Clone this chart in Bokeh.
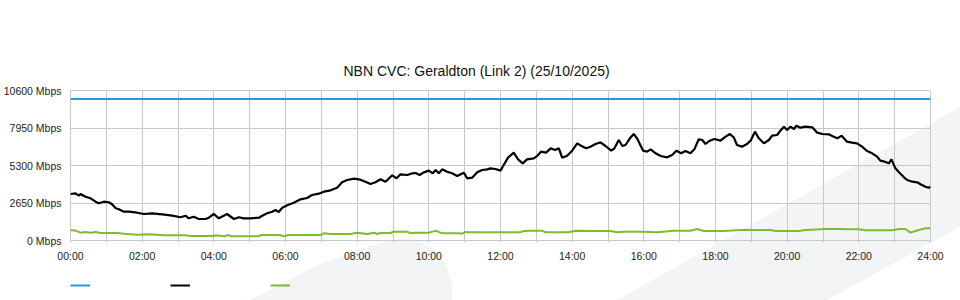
from bokeh.plotting import figure
from bokeh.layouts import column
from bokeh.models import (Range1d, FixedTicker, Title, Legend, LegendItem, ColumnDataSource)
from bokeh.embed import file_html
from bokeh.resources import INLINE

# ---------------- data ----------------
chart_title = "NBN CVC: Geraldton (Link 2) (25/10/2025)"

x_tick_hours = [0, 2, 4, 6, 8, 10, 12, 14, 16, 18, 20, 22, 24]
x_tick_labels = ["00:00", "02:00", "04:00", "06:00", "08:00", "10:00", "12:00",
                 "14:00", "16:00", "18:00", "20:00", "22:00", "24:00"]
x_minor_hours = [1, 3, 5, 7, 9, 11, 13, 15, 17, 19, 21, 23]

y_tick_values = [0, 2650, 5300, 7950, 10600]
y_tick_labels = ["0 Mbps", "2650 Mbps", "5300 Mbps", "7950 Mbps", "10600 Mbps"]

# capacity (blue)
capacity_hours = [0, 24]
capacity_mbps = [10000, 10000]

# traffic (black)
traffic_hours = [
    0.00, 0.14, 0.23, 0.28, 0.42, 0.56, 0.70, 0.79, 0.93, 1.07, 1.16, 1.26, 1.35, 1.49,
    1.63, 1.86, 2.05, 2.28, 2.56, 2.84, 3.07, 3.21, 3.30, 3.44, 3.58, 3.77, 3.86, 4.00,
    4.14, 4.37, 4.56, 4.70, 4.84, 5.02, 5.26, 5.35, 5.49, 5.63, 5.72, 5.81, 5.91, 6.05,
    6.23, 6.42, 6.60, 6.74, 6.93, 7.07, 7.26, 7.44, 7.58, 7.72, 7.91, 8.09, 8.23, 8.37,
    8.51, 8.65, 8.79, 8.98, 9.10, 9.21, 9.40, 9.54, 9.63, 9.74, 9.86, 10.00, 10.11, 10.19,
    10.28, 10.37, 10.51, 10.65, 10.79, 10.98, 11.07, 11.21, 11.35, 11.49, 11.63, 11.72,
    11.86, 12.00, 12.09, 12.21, 12.37, 12.49, 12.62, 12.74, 12.93, 13.02, 13.13, 13.27,
    13.40, 13.52, 13.63, 13.72, 13.86, 14.00, 14.14, 14.26, 14.39, 14.51, 14.65, 14.79,
    14.93, 15.09, 15.18, 15.30, 15.40, 15.49, 15.61, 15.72, 15.81, 15.98, 16.09, 16.19,
    16.33, 16.47, 16.65, 16.79, 16.91, 17.04, 17.16, 17.30, 17.41, 17.53, 17.63, 17.72,
    17.84, 17.97, 18.14, 18.28, 18.40, 18.51, 18.60, 18.74, 18.88, 18.98, 19.10, 19.21,
    19.35, 19.49, 19.58, 19.72, 19.81, 19.91, 20.00, 20.09, 20.19, 20.26, 20.37, 20.51,
    20.70, 20.84, 20.98, 21.16, 21.30, 21.40, 21.52, 21.67, 21.81, 21.95, 22.09, 22.23,
    22.37, 22.51, 22.60, 22.72, 22.84, 22.91, 23.02, 23.12, 23.26, 23.35, 23.49, 23.63,
    23.72, 23.86, 23.95, 24.00]
traffic_mbps = [
    3286, 3335, 3166, 3286, 3095, 2982, 2742, 2629, 2742, 2699, 2558, 2275, 2205, 2035,
    2035, 1964, 1873, 1922, 1851, 1753, 1640, 1753, 1569, 1682, 1519, 1519, 1611, 1873,
    1569, 1873, 1519, 1640, 1569, 1569, 1611, 1753, 1922, 2035, 2155, 2014, 2318, 2487,
    2671, 2911, 3003, 3215, 3307, 3449, 3547, 3731, 4113, 4275, 4369, 4297, 4155, 3993,
    4113, 4325, 4155, 4607, 4395, 4678, 4629, 4749, 4770, 4629, 4817, 4935, 4749, 4982,
    4749, 5029, 4862, 4749, 4558, 4791, 4395, 4438, 4817, 4982, 5029, 5100,
    5053, 4935, 5335, 5853, 6207, 5735, 5453, 5735, 5806, 5970, 6278, 6207,
    6513, 6395, 6513, 5853, 5994, 6348, 6866, 6678, 6513, 6631, 6819, 6937,
    6678, 6348, 6513, 7102, 6678, 6749, 7220, 7526, 7220, 6348, 6278, 6443,
    6160, 5970, 5876, 6042, 6348, 6160, 6325, 6160, 6443, 7149, 7102, 6819,
    7055, 7173, 7055, 7337, 7526, 7290, 6749, 6631, 6819, 7055, 7691, 7220,
    6866, 7102, 7408, 7455, 7761, 8044, 7808, 8044, 7879, 8115, 7973, 8044,
    7997, 7620, 7526, 7502, 7337, 7220, 7408, 6984, 6913, 6866, 6631, 6325,
    6160, 5924, 5641, 5571, 5453, 5735, 5100, 4817, 4464, 4275, 4155, 4113,
    3971, 3802, 3731, 3802]

# second series (green)
green_hours = [
    0.00, 0.14, 0.28, 0.42, 0.56, 0.70, 0.84, 1.30, 1.50, 1.86, 2.20, 2.40, 2.60, 3.20,
    3.35, 4.00, 4.05, 4.30, 4.40, 4.50, 5.25, 5.32, 5.85, 5.95, 6.10, 6.98, 7.07, 7.26,
    7.81, 8.00, 8.28, 8.47, 8.56, 8.65, 8.93, 9.02, 9.40, 9.49, 9.63, 10.00, 10.19, 10.37,
    10.84, 10.93, 11.02, 11.12, 12.55, 12.62, 12.79, 13.16, 13.26, 13.91, 14.09, 14.65,
    15.07, 15.26, 15.44, 16.00, 16.37, 16.84, 17.30, 17.49, 17.67, 18.23, 18.70, 19.53,
    19.67, 20.33, 20.51, 21.07, 21.44, 21.72, 22.00, 22.19, 22.93, 23.12, 23.30, 23.44,
    23.58, 23.86, 24.00]
green_mbps = [
    720, 700, 553, 600, 553, 600, 530, 530, 480, 412, 440, 412, 365, 365,
    318, 318, 365, 294, 390, 294, 294, 389, 389, 294, 389, 389, 507, 460,
    460, 554, 460, 554, 460, 530, 530, 625, 625, 507, 553, 553, 695, 507,
    507, 480, 601, 577, 577, 648, 695, 695, 577, 577, 695, 671,
    671, 577, 624, 624, 577, 695, 695, 813, 671, 671, 742, 742,
    671, 671, 742, 813, 813, 790, 790, 718, 718, 813, 813, 553,
    671, 860, 860]

# ---------------- figure ----------------
FONT = "Liberation Sans"
GRID = "#c8c8c8"
BLUE, BLACK, GREEN = "#1a9fdb", "#000000", "#7dbb30"

src_cap = ColumnDataSource(dict(x=capacity_hours, y=capacity_mbps))
src_trf = ColumnDataSource(dict(x=traffic_hours, y=traffic_mbps))
src_grn = ColumnDataSource(dict(x=green_hours, y=green_mbps))

p = figure(width=960, height=262, frame_width=860, frame_height=150,
           output_backend="svg", toolbar_location=None,
           x_range=Range1d(0, 24), y_range=Range1d(0, 10600),
           min_border_left=70, min_border_right=30, min_border_top=90,
           min_border_bottom=22)
p.border_fill_color = None
p.background_fill_color = None
p.outline_line_color = GRID
p.outline_line_width = 1

p.title = Title(text=chart_title, align="left", offset=273,
                text_font=FONT, text_font_size="14px", text_font_style="normal",
                text_color="#111111", standoff=24)

# x axis
xa = p.xaxis[0]
xa.ticker = FixedTicker(ticks=x_tick_hours, minor_ticks=x_minor_hours)
xa.major_label_overrides = {h: l for h, l in zip(x_tick_hours, x_tick_labels)}
xa.axis_line_color = None
xa.major_tick_in = 0
xa.minor_tick_in = 0
xa.major_tick_out = 2
xa.minor_tick_out = 2
xa.major_tick_line_color = GRID
xa.minor_tick_line_color = GRID
xa.major_label_standoff = 7
xa.major_label_text_font = FONT
xa.major_label_text_font_size = "10.5px"
xa.major_label_text_color = "#222222"

# y axis
ya = p.yaxis[0]
ya.ticker = FixedTicker(ticks=y_tick_values)
ya.major_label_overrides = {v: l for v, l in zip(y_tick_values, y_tick_labels)}
ya.axis_line_color = None
ya.major_tick_line_color = None
ya.minor_tick_line_color = None
ya.major_tick_in = 0
ya.major_tick_out = 0
ya.major_label_standoff = 9
ya.major_label_text_font = FONT
ya.major_label_text_font_size = "10.5px"
ya.major_label_text_color = "#222222"
ya.major_label_text_baseline = "alphabetic"

p.xgrid.grid_line_color = GRID
p.xgrid.minor_grid_line_color = GRID
p.ygrid.grid_line_color = GRID

p.line("x", "y", source=src_cap, line_color=BLUE, line_width=2)
p.line("x", "y", source=src_grn, line_color=GREEN, line_width=2)
p.line("x", "y", source=src_trf, line_color=BLACK, line_width=2.2)

# ---- legend strip (same series; its ranges keep the lines out of view) ----
q = figure(width=960, height=38, output_backend="svg", toolbar_location=None,
           x_range=Range1d(100, 101), y_range=Range1d(0, 10600),
           min_border_left=70, min_border_right=30, min_border_top=11,
           min_border_bottom=0)
q.axis.visible = False
q.grid.visible = False
q.outline_line_color = None
q.border_fill_color = None
q.background_fill_color = None
l_cap = q.line("x", "y", source=src_cap, line_color=BLUE, line_width=2)
l_trf = q.line("x", "y", source=src_trf, line_color=BLACK, line_width=2)
l_grn = q.line("x", "y", source=src_grn, line_color=GREEN, line_width=2)

legend = Legend(items=[LegendItem(label=" ", renderers=[l_cap]),
                       LegendItem(label=" ", renderers=[l_trf]),
                       LegendItem(label=" ", renderers=[l_grn])],
                orientation="horizontal", location="top_left",
                margin=0, padding=0, spacing=60, glyph_width=20, glyph_height=20,
                label_standoff=0, label_text_font_size="1px",
                label_height=20, border_line_color=None, background_fill_alpha=0)
q.add_layout(legend, "center")

wm = ("<svg xmlns='http://www.w3.org/2000/svg' width='960' height='300'>"
      "<path d='M617 300 L960 107 L960 227 L827 300 Z' fill='rgb(243,244,246)'/>"
      "<path d='M250 300 L320 264 L370 246 L400 238 L415 239 L435 250 L447 267 "
      "L452 285 L452 300 Z' fill='rgb(243,244,246)'/></svg>")
page = column(p, q, spacing=0,
              styles={"background-image": 'url("data:image/svg+xml;utf8,' + wm + '")',
                      "background-repeat": "no-repeat"})

open("out.html", "w").write(file_html(page, INLINE))
